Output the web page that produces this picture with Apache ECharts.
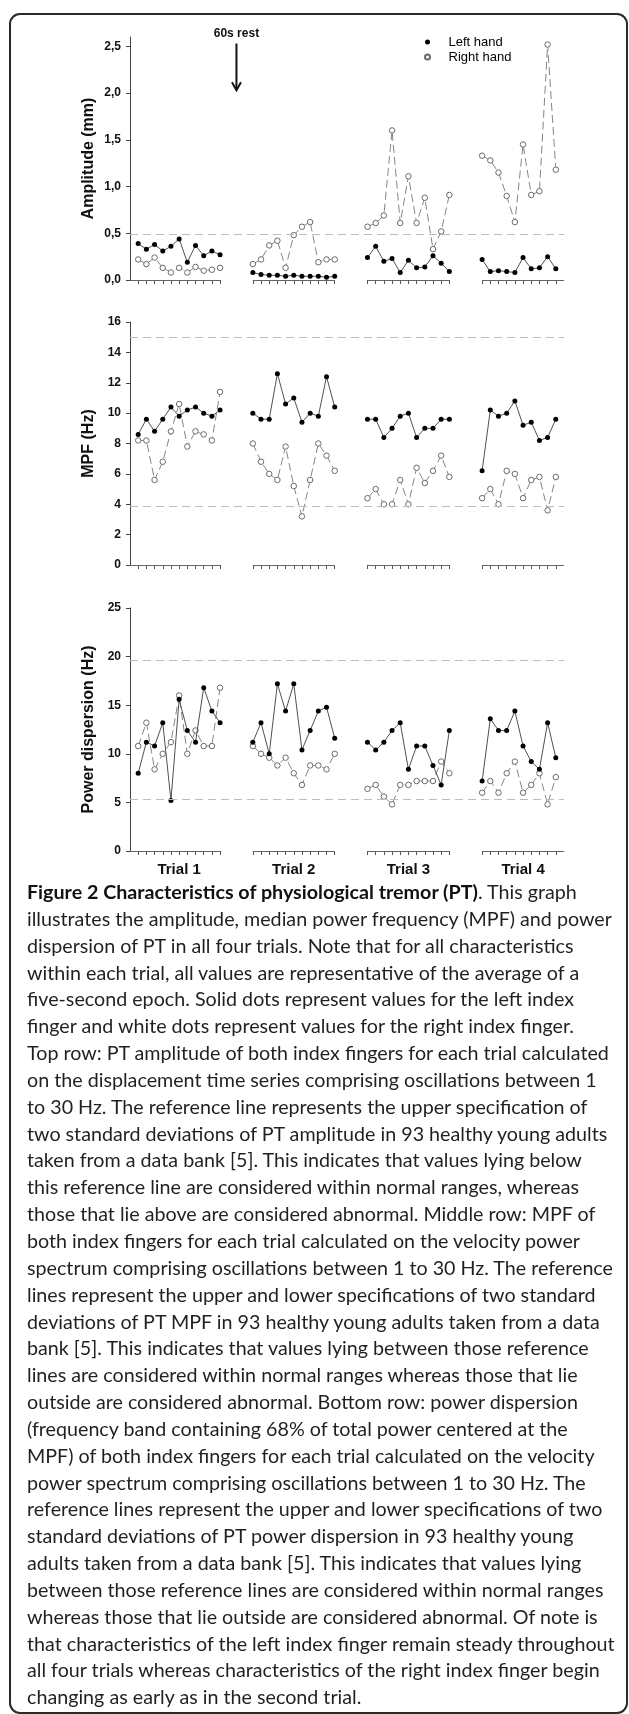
<!DOCTYPE html>
<html>
<head>
<meta charset="utf-8">
<script src="https://cdn.jsdelivr.net/npm/echarts@6/dist/echarts.min.js"></script>
<style>
html,body{margin:0;padding:0;background:#fff;}
#wrap{position:relative;width:629px;height:1714px;overflow:hidden;background:#fff;}
#frame{position:absolute;left:9px;top:13px;width:619px;height:1701px;border:2px solid #2a2a2a;border-radius:11px;box-sizing:border-box;}
#chart{position:absolute;left:0;top:0;width:629px;height:890px;}
#caption{position:absolute;left:27px;top:879px;font-family:Lato,"Open Sans",sans-serif;line-height:26.85px;color:#231f20;white-space:pre;}
#caption b{color:#111;}
</style>
</head>
<body>
<div id="wrap">
  <div id="frame"></div>
  <div id="chart"></div>
  <div id="caption"></div>
</div>
<script>
// ---------------- data ----------------
const trialNames = ['Trial 1', 'Trial 2', 'Trial 3', 'Trial 4'];
const trialStart = [1, 15, 29, 43];          // first slot of each trial on the x scale
const trialLabelPos = [6, 20, 34, 48];       // slot where each trial label is centred
const axisSegments = [[0, 11], [15, 25], [29, 39], [43, 53]];
const xMax = 53;

const ampLeft = [
  [0.39, 0.33, 0.38, 0.31, 0.36, 0.44, 0.19, 0.37, 0.26, 0.31, 0.27],
  [0.08, 0.06, 0.05, 0.05, 0.04, 0.05, 0.04, 0.04, 0.04, 0.03, 0.04],
  [0.24, 0.36, 0.20, 0.23, 0.08, 0.21, 0.13, 0.14, 0.26, 0.18, 0.09],
  [0.22, 0.09, 0.10, 0.09, 0.08, 0.24, 0.12, 0.13, 0.25, 0.12]
];
const ampRight = [
  [0.22, 0.17, 0.24, 0.13, 0.08, 0.13, 0.08, 0.14, 0.10, 0.11, 0.13],
  [0.17, 0.22, 0.37, 0.42, 0.13, 0.48, 0.57, 0.62, 0.19, 0.22, 0.22],
  [0.57, 0.61, 0.69, 1.60, 0.61, 1.11, 0.61, 0.88, 0.33, 0.52, 0.91],
  [1.33, 1.28, 1.15, 0.90, 0.62, 1.45, 0.91, 0.95, 2.52, 1.18]
];
const mpfLeft = [
  [8.6, 9.6, 8.8, 9.6, 10.4, 9.8, 10.2, 10.4, 10.0, 9.8, 10.2],
  [10.0, 9.6, 9.6, 12.6, 10.6, 11.0, 9.4, 10.0, 9.8, 12.4, 10.4],
  [9.6, 9.6, 8.4, 9.0, 9.8, 10.0, 8.4, 9.0, 9.0, 9.6, 9.6],
  [6.2, 10.2, 9.8, 10.0, 10.8, 9.2, 9.4, 8.2, 8.4, 9.6]
];
const mpfRight = [
  [8.2, 8.2, 5.6, 6.8, 8.8, 10.6, 7.8, 8.8, 8.6, 8.2, 11.4],
  [8.0, 6.8, 6.0, 5.6, 7.8, 5.2, 3.2, 5.6, 8.0, 7.2, 6.2],
  [4.4, 5.0, 4.0, 4.0, 5.6, 4.0, 6.4, 5.4, 6.2, 7.2, 5.8],
  [4.4, 5.0, 4.0, 6.2, 6.0, 4.4, 5.6, 5.8, 3.6, 5.8]
];
const pdLeft = [
  [8.0, 11.2, 10.8, 13.2, 5.2, 15.6, 12.4, 11.2, 16.8, 14.4, 13.2],
  [11.2, 13.2, 10.0, 17.2, 14.4, 17.2, 10.4, 12.4, 14.4, 14.8, 11.6],
  [11.2, 10.4, 11.2, 12.4, 13.2, 8.4, 10.8, 10.8, 8.8, 6.8, 12.4],
  [7.2, 13.6, 12.4, 12.4, 14.4, 10.8, 9.2, 8.4, 13.2, 9.6]
];
const pdRight = [
  [10.8, 13.2, 8.4, 10.0, 11.2, 16.0, 10.0, 12.4, 10.8, 10.8, 16.8],
  [10.8, 10.0, 9.6, 8.8, 9.6, 8.0, 6.8, 8.8, 8.8, 8.4, 10.0],
  [6.4, 6.8, 5.6, 4.8, 6.8, 6.8, 7.2, 7.2, 7.2, 9.2, 8.0],
  [6.0, 7.2, 6.0, 8.0, 9.2, 6.0, 6.8, 8.0, 4.8, 7.6]
];

const ampRef = [0.49];
const mpfRef = [15.0, 3.87];
const pdRef = [19.6, 5.3];

const ampTicks = [0, 0.5, 1.0, 1.5, 2.0, 2.5];
const mpfTicks = [0, 2, 4, 6, 8, 10, 12, 14, 16];
const pdTicks = [0, 5, 10, 15, 20, 25];

const panelNames = ['Amplitude (mm)', 'MPF (Hz)', 'Power dispersion (Hz)'];
const legendNames = ['Left hand', 'Right hand'];
const restLabel = '60s rest';
const restSlot = 13;
const restText = 2.64, restTop = 2.53, restBottom = 2.03;

const captionBold = 'Figure 2 Characteristics of physiological tremor (PT)';
const captionLines = [
  '. This graph',
  'illustrates the amplitude, median power frequency (MPF) and power',
  'dispersion of PT in all four trials. Note that for all characteristics',
  'within each trial, all values are representative of the average of a',
  'five-second epoch. Solid dots represent values for the left index',
  'finger and white dots represent values for the right index finger.',
  'Top row: PT amplitude of both index fingers for each trial calculated',
  'on the displacement time series comprising oscillations between 1',
  'to 30 Hz. The reference line represents the upper specification of',
  'two standard deviations of PT amplitude in 93 healthy young adults',
  'taken from a data bank [5]. This indicates that values lying below',
  'this reference line are considered within normal ranges, whereas',
  'those that lie above are considered abnormal. Middle row: MPF of',
  'both index fingers for each trial calculated on the velocity power',
  'spectrum comprising oscillations between 1 to 30 Hz. The reference',
  'lines represent the upper and lower specifications of two standard',
  'deviations of PT MPF in 93 healthy young adults taken from a data',
  'bank [5]. This indicates that values lying between those reference',
  'lines are considered within normal ranges whereas those that lie',
  'outside are considered abnormal. Bottom row: power dispersion',
  '(frequency band containing 68% of total power centered at the',
  'MPF) of both index fingers for each trial calculated on the velocity',
  'power spectrum comprising oscillations between 1 to 30 Hz. The',
  'reference lines represent the upper and lower specifications of two',
  'standard deviations of PT power dispersion in 93 healthy young',
  'adults taken from a data bank [5]. This indicates that values lying',
  'between those reference lines are considered within normal ranges',
  'whereas those that lie outside are considered abnormal. Of note is',
  'that characteristics of the left index finger remain steady throughout',
  'all four trials whereas characteristics of the right index finger begin',
  'changing as early as in the second trial.'
];

// ---------------- helpers ----------------
const FONT = 'Arial, "Liberation Sans", Helvetica, sans-serif';

function buildPoints(trials) {
  const out = [];
  trials.forEach((vals, t) => {
    if (t > 0) out.push([trialStart[t] - 2, '-']);
    vals.forEach((v, i) => out.push([trialStart[t] + i, v]));
  });
  return out;
}
const tickSlots = [];
ampLeft.forEach((vals, t) => vals.forEach((v, i) => tickSlots.push(trialStart[t] + i)));

const panels = [
  { left: ampLeft, right: ampRight, ref: ampRef, ticks: ampTicks, max: 2.6, fmt: v => v.toFixed(1).replace('.', ','), top: 37 },
  { left: mpfLeft, right: mpfRight, ref: mpfRef, ticks: mpfTicks, max: 16, fmt: v => String(v), top: 322 },
  { left: pdLeft, right: pdRight, ref: pdRef, ticks: pdTicks, max: 25, fmt: v => String(v), top: 608 }
];

const grids = [], xAxes = [], yAxes = [], series = [];
panels.forEach((p, k) => {
  grids.push({ left: 130, width: 434, top: p.top, height: 243, containLabel: false, outerBoundsMode: 'none' });
  xAxes.push({
    gridIndex: k, type: 'value', min: 0, max: xMax,
    axisLine: { show: false }, splitLine: { show: false },
    axisTick: { show: true, customValues: tickSlots, length: 4, inside: false, lineStyle: { color: '#555', width: 1 } },
    axisLabel: k === 2 ? {
      show: true, customValues: trialLabelPos, margin: 11,
      formatter: v => trialNames[trialLabelPos.indexOf(v)],
      fontFamily: FONT, fontWeight: 'bold', fontSize: 15, color: '#111'
    } : { show: false }
  });
  yAxes.push({
    gridIndex: k, type: 'value', min: 0, max: p.max,
    name: panelNames[k], nameLocation: 'middle', nameGap: 33, nameMoveOverlap: false,
    nameTextStyle: { fontFamily: FONT, fontWeight: 'bold', fontSize: 16, color: '#111' },
    axisLine: { show: true, lineStyle: { color: '#444', width: 1 } },
    axisTick: { show: true, customValues: p.ticks, length: 4, lineStyle: { color: '#444', width: 1 } },
    axisLabel: { show: true, customValues: p.ticks, formatter: p.fmt, margin: 9,
      fontFamily: FONT, fontWeight: 'bold', fontSize: 12, color: '#111' },
    splitLine: { show: false }
  });
  series.push({
    name: legendNames[0], type: 'line', xAxisIndex: k, yAxisIndex: k,
    data: buildPoints(p.left), connectNulls: false,
    symbol: 'circle', symbolSize: 5, showSymbol: true, showAllSymbol: true,
    lineStyle: { color: '#505050', width: 1 },
    itemStyle: { color: '#000', borderColor: '#000', borderWidth: 0 },
    emphasis: { disabled: true }, animation: false, z: 4,
    markLine: {
      silent: true, symbol: 'none', animation: false,
      label: { show: false },
      lineStyle: { type: [8, 5], color: '#bcbcbc', width: 1.2 },
      data: p.ref.map(v => ({ yAxis: v }))
    }
  });
  series.push({
    name: legendNames[1], type: 'line', xAxisIndex: k, yAxisIndex: k,
    data: buildPoints(p.right), connectNulls: false,
    symbol: 'circle', symbolSize: 5.5, showSymbol: true, showAllSymbol: true,
    lineStyle: { color: '#858585', width: 1, type: [8, 4] },
    itemStyle: { color: '#fff', borderColor: '#6a6a6a', borderWidth: 1 },
    emphasis: { disabled: true }, animation: false, z: 3,
    markLine: {
      silent: true, symbol: 'none', animation: false,
      label: { show: false },
      lineStyle: { type: 'solid', color: '#666', width: 1.2 },
      data: axisSegments.map(s => [{ coord: [s[0], 0] }, { coord: [s[1], 0] }])
    }
  });
});

const chart = echarts.init(document.getElementById('chart'), null, { renderer: 'canvas' });
chart.setOption({
  animation: false,
  backgroundColor: 'transparent',
  grid: grids, xAxis: xAxes, yAxis: yAxes, series: series,
  legend: {
    orient: 'vertical', left: 424, top: 35, itemWidth: 32, itemHeight: 5, itemGap: 1,
    selectedMode: false, padding: 0,
    textStyle: { fontFamily: FONT, fontSize: 13, color: '#000', lineHeight: 14 },
    data: legendNames.map(n => ({ name: n, icon: 'circle' }))
  },
  tooltip: { show: false }
});

// "60s rest" annotation placed through the axes' own scales
const pText = chart.convertToPixel({ xAxisIndex: 0, yAxisIndex: 0 }, [restSlot, restText]);
const pTop = chart.convertToPixel({ xAxisIndex: 0, yAxisIndex: 0 }, [restSlot, restTop]);
const pBot = chart.convertToPixel({ xAxisIndex: 0, yAxisIndex: 0 }, [restSlot, restBottom]);
chart.setOption({
  graphic: [
    { type: 'text', x: pText[0], y: pText[1], style: { text: restLabel, fontFamily: FONT, fontWeight: 'bold', fontSize: 12, fill: '#111', align: 'center', verticalAlign: 'middle' } },
    { type: 'line', shape: { x1: pTop[0], y1: pTop[1], x2: pBot[0], y2: pBot[1] - 1 }, style: { stroke: '#111', lineWidth: 2 } },
    { type: 'polyline', shape: { points: [[pBot[0] - 4.5, pBot[1] - 8], [pBot[0], pBot[1]], [pBot[0] + 4.5, pBot[1] - 8]] }, style: { stroke: '#111', lineWidth: 2, fill: null } }
  ]
});

// ---------------- caption ----------------
(function () {
  const ctx = document.createElement('canvas').getContext('2d');
  const fam = 'Lato, "Open Sans", sans-serif';
  const target = 589;
  function widest(sz) {
    let w = 0;
    captionLines.forEach((ln, i) => {
      ctx.font = sz + 'px ' + fam;
      let lw = ctx.measureText(ln).width;
      if (i === 0) { ctx.font = 'bold ' + sz + 'px ' + fam; lw += ctx.measureText(captionBold).width; }
      w = Math.max(w, lw);
    });
    return w;
  }
  let lo = 10, hi = 30;
  for (let k = 0; k < 30; k++) { const m = (lo + hi) / 2; if (widest(m) > target) hi = m; else lo = m; }
  const cap = document.getElementById('caption');
  cap.style.fontSize = lo + 'px';
  const b = document.createElement('b');
  b.textContent = captionBold;
  cap.appendChild(b);
  captionLines.forEach((ln, i) => {
    if (i > 0) cap.appendChild(document.createElement('br'));
    cap.appendChild(document.createTextNode(ln));
  });
})();
</script>
</body>
</html>
